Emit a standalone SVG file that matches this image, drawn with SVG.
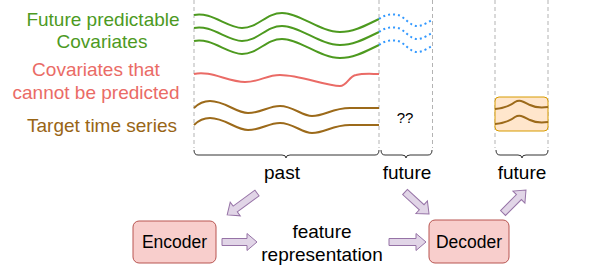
<svg xmlns="http://www.w3.org/2000/svg" width="607" height="270" viewBox="0 0 607 270">
<style>
text{font-family:"Liberation Sans",Arial,Helvetica,sans-serif;}
.lbl{font-size:19px;text-anchor:middle;}
.green{fill:#4d9a1f;}
.red{fill:#ea6b66;}
.brown{fill:#996515;}
.dash{stroke:#b3b3b3;stroke-width:1;stroke-dasharray:4 3;fill:none;}
.gw{fill:none;stroke:#4d9a1f;stroke-width:2;}
.bw{fill:none;stroke:#3399ff;stroke-width:2;stroke-dasharray:2 3;}
.rw{fill:none;stroke:#ea6b66;stroke-width:2;}
.tw{fill:none;stroke:#9c6a1a;stroke-width:2;}
.brace{fill:none;stroke:#333;stroke-width:1;}
.box{fill:#f8cecc;stroke:#b85450;stroke-width:1;}
.arr{fill:#e1d5e7;stroke:#9673a6;stroke-width:1;}
.node{font-size:17.5px;text-anchor:middle;fill:#000;}
</style>
<g id="guides">
<line class="dash" x1="194" y1="0" x2="194" y2="148"/>
<line class="dash" x1="379" y1="0" x2="379" y2="148"/>
<line class="dash" x1="432.5" y1="0" x2="432.5" y2="148"/>
<line class="dash" x1="495" y1="0" x2="495" y2="148"/>
<line class="dash" x1="548" y1="0" x2="548" y2="148"/>
</g>
<g id="labels">
<text class="lbl green" x="103" y="26">Future predictable</text>
<text class="lbl green" x="102" y="48">Covariates</text>
<text class="lbl red" x="96" y="76">Covariates that</text>
<text class="lbl red" x="96" y="99">cannot be predicted</text>
<text class="lbl brown" x="102" y="132">Target time series</text>
</g>
<g id="series">
<path id="g1" class="gw" d="M194,15 C210,11 228,28 242,28 C258,28 266,13 282,13 C300,13 320,32 340,32 C355,32 368,24 379,19"/>
<use href="#g1" transform="translate(0,13)"/>
<use href="#g1" transform="translate(0,26)"/>
<path id="b1" class="bw" d="M379,19 C386,14 392,14 398,15 C405,17 410,26 417,26 C423,26 428,22 432,20"/>
<use href="#b1" transform="translate(0,13)"/>
<use href="#b1" transform="translate(0,26)"/>
<path class="rw" d="M194,74 C210,70 228,82 245,82 C260,82 266,75 280,75 C300,75 326,86 340,86 C347,86 349,76 356,75 C364,73 372,74 379,74"/>
<path id="t1" class="tw" d="M194,108 C198,104 204,101 210,101 C225,101 236,113 248,113 C262,113 268,106 280,106 C293,106 302,116 312,116 C325,116 332,108 350,108 C365,108 372,108 379,108"/>
<use href="#t1" transform="translate(0,17)"/>
<text x="405" y="123" style="font-size:15px;text-anchor:middle;fill:#000">??</text>
</g>
<g id="forecast">
<rect x="495" y="97" width="53" height="34" rx="4" fill="#ffe6cc" stroke="#d79b00"/>
<path id="f1" class="tw" d="M495,109 C505,108 510,106 515,102 C520,99 524,102 530,105 C536,108 541,108 548,107"/>
<use href="#f1" transform="translate(0,15)"/>
</g>
<g id="braces">
<path class="brace" d="M194,150 Q194,155 198,155 L282,155 Q286,155 286,158 Q286,155 290,155 L375,155 Q379,155 379,150"/>
<path class="brace" d="M381,150 Q381,155 385,155 L402,155 Q406,155 406,158 Q406,155 410,155 L428,155 Q432,155 432,150"/>
<path class="brace" d="M496,150 Q496,155 500,155 L518,155 Q522,155 522,158 Q522,155 526,155 L544,155 Q548,155 548,150"/>
<text class="lbl" x="282" y="179" fill="#000">past</text>
<text class="lbl" x="407" y="179" fill="#000">future</text>
<text class="lbl" x="522" y="179" fill="#000">future</text>
</g>
<g id="encoder">
<rect class="box" x="133" y="221" width="83" height="42" rx="6"/>
<text class="node" x="174.5" y="248">Encoder</text>
</g>
<g id="feature-representation">
<text class="lbl" x="322" y="238" fill="#000">feature</text>
<text class="lbl" x="322" y="261" fill="#000">representation</text>
</g>
<g id="decoder">
<rect class="box" x="429" y="220" width="80" height="43" rx="6"/>
<text class="node" x="469" y="248">Decoder</text>
</g>
<g id="connectors">
<path class="arr" transform="translate(222,242)" d="M0,-3.5 L25,-3.5 L25,-8.5 L35,0 L25,8.5 L25,3.5 L0,3.5 Z"/>
<path class="arr" transform="translate(389,242)" d="M0,-3.5 L27,-3.5 L27,-8.5 L37,0 L27,8.5 L27,3.5 L0,3.5 Z"/>
<path class="arr" transform="translate(257,193) rotate(143.7)" d="M0,-3.5 L27,-3.5 L27,-8.5 L37,0 L27,8.5 L27,3.5 L0,3.5 Z"/>
<path class="arr" transform="translate(405,192) rotate(42.5)" d="M0,-3.5 L22.6,-3.5 L22.6,-8.5 L32.6,0 L22.6,8.5 L22.6,3.5 L0,3.5 Z"/>
<path class="arr" transform="translate(503,213) rotate(-45)" d="M0,-3.5 L22.5,-3.5 L22.5,-8.5 L32.5,0 L22.5,8.5 L22.5,3.5 L0,3.5 Z"/>
</g>
</svg>
